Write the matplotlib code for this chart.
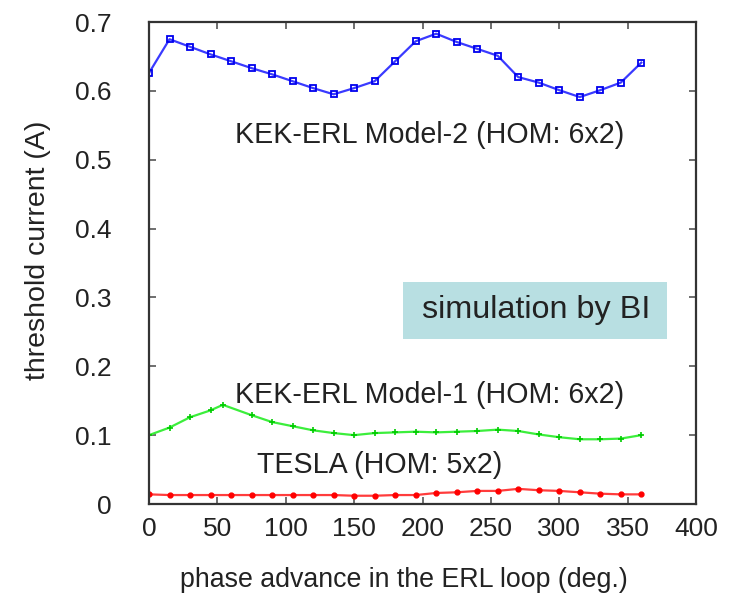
import matplotlib
matplotlib.use("Agg")
import matplotlib.pyplot as plt
from matplotlib.patches import Rectangle

plt.rcParams['font.family'] = ['Liberation Sans', 'DejaVu Sans']

# -----------------------------
#  Data
# -----------------------------
phase = [0, 15, 30, 45, 60, 75, 90, 105, 120, 135, 150, 165, 180,
         195, 210, 225, 240, 255, 270, 285, 300, 315, 330, 345, 360]

model2 = [0.626, 0.675, 0.664, 0.653, 0.643, 0.633, 0.624, 0.614, 0.604, 0.595,
          0.604, 0.614, 0.643, 0.672, 0.683, 0.671, 0.661, 0.651, 0.620, 0.612,
          0.601, 0.591, 0.601, 0.612, 0.641]

phase_m1 = [0, 15, 30, 45, 54, 75, 90, 105, 120, 135, 150, 165, 180,
            195, 210, 225, 240, 255, 270, 285, 300, 315, 330, 345, 360]
model1 = [0.100, 0.111, 0.126, 0.136, 0.144, 0.129, 0.119, 0.113, 0.107, 0.103,
          0.100, 0.103, 0.104, 0.105, 0.104, 0.105, 0.106, 0.108, 0.106, 0.101,
          0.097, 0.094, 0.094, 0.095, 0.100]

tesla = [0.014, 0.013, 0.013, 0.013, 0.013, 0.013, 0.013, 0.013, 0.013, 0.013,
         0.012, 0.012, 0.013, 0.013, 0.016, 0.017, 0.019, 0.019, 0.022, 0.020,
         0.019, 0.017, 0.015, 0.014, 0.014]

xticks = [0, 50, 100, 150, 200, 250, 300, 350, 400]
yticks = [0, 0.1, 0.2, 0.3, 0.4, 0.5, 0.6, 0.7]
ytick_labels = ["0", "0.1", "0.2", "0.3", "0.4", "0.5", "0.6", "0.7"]

# -----------------------------
#  Figure
# -----------------------------
fig = plt.figure(figsize=(7.31, 6.06), dpi=100)
ax = fig.add_axes([149/731, 1 - 504/606, (696-149)/731, (504-22)/606])

ax.plot(phase, model2, color='#3a3aff', lw=1.6, marker='s', ms=4,
        mfc='none', mec='#0000ee', mew=1.3)
ax.plot(phase_m1, model1, color='#3cee3c', lw=1.6, marker='+', ms=5,
        mec='#00cc00', mew=1.2)
ax.plot(phase, tesla, color='#ff3c3c', lw=1.6, marker='o', ms=3.5,
        mfc='#ff0000', mec='#ff0000')

ax.set_xlim(0, 400)
ax.set_ylim(0, 0.7)
ax.set_xticks(xticks)
ax.set_yticks(yticks)
ax.set_yticklabels(ytick_labels)

ax.tick_params(direction='in', length=5, width=1.2, color='#555555',
               top=True, right=True, labelsize=19, labelcolor='#222222')
ax.tick_params(axis='y', pad=27)
ax.tick_params(axis='x', pad=9)
for s in ax.spines.values():
    s.set_linewidth(1.6)
    s.set_color('#333333')

# annotations
ax.text(205, 0.536, "KEK-ERL Model-2 (HOM: 6x2)", fontsize=20.6,
        ha='center', va='center', color='#222222')
ax.text(205, 0.158, "KEK-ERL Model-1 (HOM: 6x2)", fontsize=20.6,
        ha='center', va='center', color='#222222')
ax.text(169, 0.057, "TESLA (HOM: 5x2)", fontsize=20.6,
        ha='center', va='center', color='#222222')

ax.add_patch(Rectangle((186, 0.240), 193, 0.083, facecolor='#b8dfe2',
                       edgecolor='none', zorder=1))
ax.text(283, 0.282, "simulation by BI", fontsize=23.3,
        ha='center', va='center', color='#222222', zorder=2)

fig.text(38/731, 1 - 250/606, "threshold current (A)", rotation=90,
         fontsize=20.5, ha='center', va='center', color='#222222')
fig.text(404/731, 1 - 580/606, "phase advance in the ERL loop (deg.)",
         fontsize=19.3, ha='center', va='center', color='#222222')

fig.savefig("out.png", dpi=100)
